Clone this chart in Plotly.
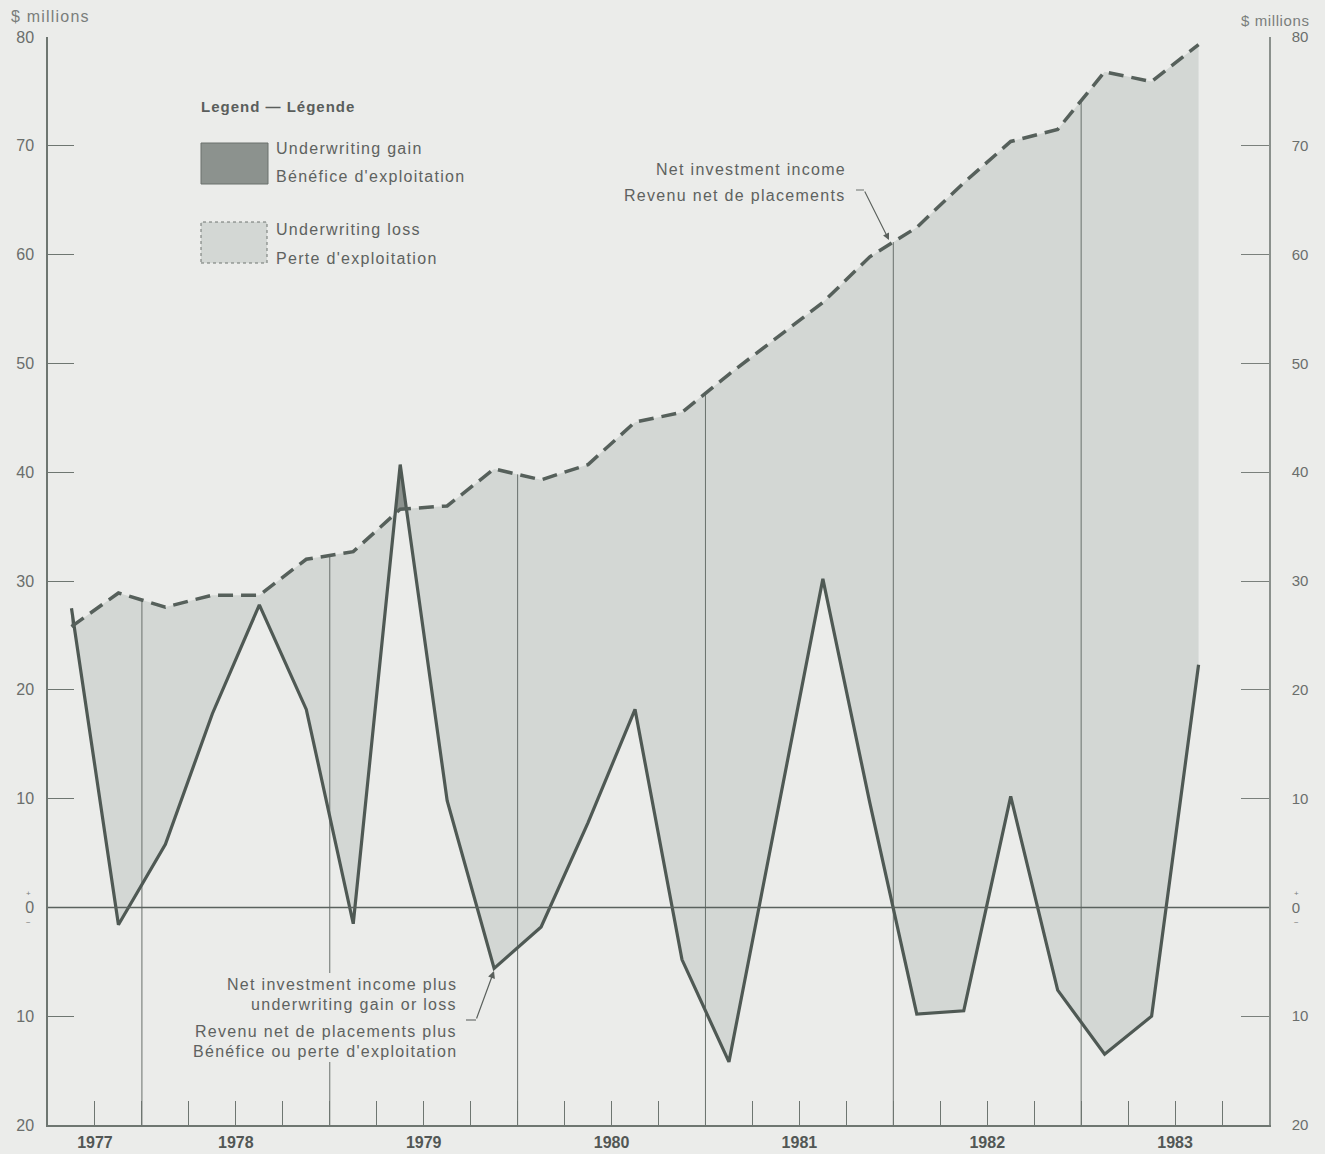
import numpy as np
import plotly.graph_objects as go

# ---------------- data ----------------
quarters = ["1977 Q3", "1977 Q4",
            "1978 Q1", "1978 Q2", "1978 Q3", "1978 Q4",
            "1979 Q1", "1979 Q2", "1979 Q3", "1979 Q4",
            "1980 Q1", "1980 Q2", "1980 Q3", "1980 Q4",
            "1981 Q1", "1981 Q2", "1981 Q3", "1981 Q4",
            "1982 Q1", "1982 Q2", "1982 Q3", "1982 Q4",
            "1983 Q1", "1983 Q2", "1983 Q3"]
axis_quarters = quarters + ["1983 Q4"]

# Net investment income ($ millions)
net_investment_income = [25.8, 28.9, 27.6, 28.7, 28.7, 32.0, 32.7, 36.6, 36.9, 40.3,
                         39.3, 40.7, 44.6, 45.5, 49.0, 52.3, 55.6, 59.8, 62.5, 66.6,
                         70.4, 71.5, 76.8, 75.9, 79.3]
# Net investment income plus underwriting gain or loss ($ millions)
net_plus_underwriting = [27.5, -1.6, 5.8, 17.8, 27.8, 18.2, -1.5, 40.7, 9.8, -5.6,
                         -1.8, 7.8, 18.2, -4.8, -14.2, 8.0, 30.2, 9.6, -9.8, -9.5,
                         10.2, -7.6, -13.5, -10.0, 22.3]

years = ["1977", "1978", "1979", "1980", "1981", "1982", "1983"]
y_tick_values = [-20, -10, 0, 10, 20, 30, 40, 50, 60, 70, 80]
y_tick_labels = ["20", "10", "0", "10", "20", "30", "40", "50", "60", "70", "80"]

# ---------------- styles ----------------
BG = "#ebecea"
FILL_LOSS = "#d3d7d4"
FILL_GAIN = "#8c928e"
LINE = "#4f5954"
AXIS = "#6e7671"
TEXT = "#5e6260"
FONT = "Liberation Sans, Arial, sans-serif"

W, H = 1325, 1154
L, R, T, B = 48, 1269, 37, 1125


def px(xp):
    return (xp - L) / (R - L)


def py(yp):
    return (B - yp) / (B - T)


def spaced(t, ls=1.3):
    return '<span style="letter-spacing:%spx">%s</span>' % (ls, t)


# ---------------- positions from data ----------------
n_axis = len(axis_quarters)
x = np.array([axis_quarters.index(q) + 0.5 for q in quarters])
ni = np.array(net_investment_income, dtype=float)
nu = np.array(net_plus_underwriting, dtype=float)


def with_crossings(xv, a, b):
    xs, av, bv = [xv[0]], [a[0]], [b[0]]
    for i in range(1, len(xv)):
        d0 = a[i - 1] - b[i - 1]
        d1 = a[i] - b[i]
        if d0 * d1 < 0:
            t = d0 / (d0 - d1)
            xc = xv[i - 1] + t * (xv[i] - xv[i - 1])
            yc = b[i - 1] + t * (b[i] - b[i - 1])
            xs.append(xc); av.append(yc); bv.append(yc)
        xs.append(xv[i]); av.append(a[i]); bv.append(b[i])
    return np.array(xs), np.array(av), np.array(bv)


xe, nue, nie = with_crossings(x, nu, ni)
low = np.minimum(nue, nie)
high = np.maximum(nue, nie)

fig = go.Figure()

# underwriting loss area
fig.add_trace(go.Scatter(x=xe, y=low, mode="lines", line=dict(width=0),
                         hoverinfo="skip", showlegend=False))
fig.add_trace(go.Scatter(x=xe, y=nie, mode="lines", line=dict(width=0),
                         fill="tonexty", fillcolor=FILL_LOSS,
                         hoverinfo="skip", showlegend=False))
# underwriting gain area
fig.add_trace(go.Scatter(x=xe, y=nie, mode="lines", line=dict(width=0),
                         hoverinfo="skip", showlegend=False))
fig.add_trace(go.Scatter(x=xe, y=high, mode="lines", line=dict(width=0),
                         fill="tonexty", fillcolor=FILL_GAIN,
                         hoverinfo="skip", showlegend=False))

# year boundary lines
bx, by = [], []
for yr in years[1:]:
    b = axis_quarters.index(yr + " Q1")
    top = float(np.interp(b, x, ni))
    bx += [b, b, None]
    by += [y_tick_values[0], top, None]
fig.add_trace(go.Scatter(x=bx, y=by, mode="lines", line=dict(color="#69706c", width=1),
                         hoverinfo="skip", showlegend=False))

# lines
fig.add_trace(go.Scatter(x=x, y=nu, mode="lines", name="Net investment income plus underwriting gain or loss",
                         line=dict(color=LINE, width=3.2), showlegend=False))
fig.add_trace(go.Scatter(x=x, y=ni, mode="lines", name="Net investment income",
                         line=dict(color="#56605b", width=3.5, dash="15px,8px"), showlegend=False))
# invisible trace to activate right axis
fig.add_trace(go.Scatter(x=x, y=ni, mode="lines", line=dict(width=0), yaxis="y2",
                         hoverinfo="skip", showlegend=False))

# x ticks: every quarter boundary, year labels centred on visible span
tickvals = list(range(1, n_axis))
label_pos = {}
for yr in years:
    qs = [i for i, q in enumerate(axis_quarters) if q.startswith(yr)]
    label_pos[(qs[0] + qs[-1] + 1) / 2] = yr
ticktext = ["<b>%s</b>" % label_pos[v] if v in label_pos else "" for v in tickvals]

fig.update_layout(
    width=W, height=H,
    margin=dict(l=L, r=W - R, t=T, b=H - B, autoexpand=False),
    paper_bgcolor=BG, plot_bgcolor=BG,
    font=dict(family=FONT, color=TEXT, size=15),
    xaxis=dict(range=[0, n_axis], showgrid=False, zeroline=False, automargin=False,
               showline=True, linecolor=AXIS, linewidth=1.5,
               ticks="inside", ticklen=24, tickwidth=1.2, tickcolor=AXIS,
               tickvals=tickvals, ticktext=ticktext,
               tickfont=dict(size=16, color="#525755"), ticklabelstandoff=2),
    yaxis=dict(range=[-20, 80], showgrid=False, zeroline=False, automargin=False,
               showline=True, linecolor=AXIS, linewidth=1.5,
               ticks="inside", ticklen=26, tickwidth=1.2, tickcolor=AXIS,
               tickvals=y_tick_values, ticktext=y_tick_labels,
               tickfont=dict(size=16, color="#6a6e6c"), ticklabelstandoff=9),
    yaxis2=dict(range=[-20, 80], overlaying="y", side="right", showgrid=False, zeroline=False,
                automargin=False,
                showline=True, linecolor="#8a908c", linewidth=1.5,
                ticks="inside", ticklen=28, tickwidth=1, tickcolor="#7a807c",
                tickvals=y_tick_values, ticktext=y_tick_labels,
                tickfont=dict(size=15, color="#6a6e6c"), ticklabelstandoff=18),
    showlegend=False,
)

shapes = []
# zero line
shapes.append(dict(type="line", xref="paper", yref="y", x0=0, x1=1, y0=0, y1=0,
                   line=dict(color="#5a625e", width=1.5), layer="above"))
# background patch behind lower annotation (text interrupts the year line)
shapes.append(dict(type="rect", xref="paper", yref="paper", x0=px(196), x1=px(462),
                   y0=py(1062), y1=py(973), fillcolor=BG, line=dict(width=0), layer="above"))
# legend boxes
shapes.append(dict(type="rect", xref="paper", yref="paper", x0=px(201), x1=px(268),
                   y0=py(184), y1=py(143), fillcolor=FILL_GAIN,
                   line=dict(color="#6a706c", width=1), layer="above"))
shapes.append(dict(type="rect", xref="paper", yref="paper", x0=px(201), x1=px(267),
                   y0=py(263), y1=py(222), fillcolor=FILL_LOSS,
                   line=dict(color="#6f7571", width=1, dash="dot"), layer="above"))
# leader hooks
shapes.append(dict(type="line", xref="paper", yref="paper", x0=px(856), x1=px(864),
                   y0=py(190), y1=py(190), line=dict(color="#6a706c", width=1), layer="above"))
shapes.append(dict(type="line", xref="paper", yref="paper", x0=px(466), x1=px(476),
                   y0=py(1020), y1=py(1020), line=dict(color="#6a706c", width=1.2), layer="above"))

annotations = []


def text(t, xp, yp, xanchor="left", size=16, color=TEXT, ls=1.3):
    annotations.append(dict(text=spaced(t, ls) if ls else t, xref="paper", yref="paper",
                            x=px(xp), y=py(yp),
                            xanchor=xanchor, yanchor="middle", showarrow=False,
                            font=dict(size=size, color=color, family=FONT)))


text("$ millions", 9, 16, size=16, color="#7a7e7c", ls=1.2)
text("$ millions", 1312, 20, xanchor="right", size=15, color="#7a7e7c", ls=0.6)
text("<b>Legend — Légende</b>", 199, 106, size=15, color="#5a5e5c", ls=1.0)
text("Underwriting gain", 274, 149)
text("Bénéfice d'exploitation", 274, 176)
text("Underwriting loss", 274, 230)
text("Perte d'exploitation", 274, 258)
text("Net investment income", 848, 170, xanchor="right")
text("Revenu net de placements", 848, 196, xanchor="right")
text("Net investment income plus", 459, 984, xanchor="right")
text("underwriting gain or loss", 459, 1004, xanchor="right")
text("Revenu net de placements plus", 459, 1031, xanchor="right")
text("Bénéfice ou perte d'exploitation", 459, 1051, xanchor="right")
# +/- marks near zero labels
text("+", 28, 893, xanchor="center", size=8, color="#7a7e7c", ls=0)
text("−", 28, 922, xanchor="center", size=8, color="#7a7e7c", ls=0)
text("+", 1296, 893, xanchor="center", size=8, color="#7a7e7c", ls=0)
text("−", 1296, 922, xanchor="center", size=8, color="#7a7e7c", ls=0)

# arrows
annotations.append(dict(text="", xref="paper", yref="paper", x=px(889), y=py(240),
                        ax=-25, ay=-50, showarrow=True, arrowhead=2, arrowsize=1.2,
                        arrowwidth=1.1, arrowcolor="#5a605c"))
annotations.append(dict(text="", xref="paper", yref="paper", x=px(494), y=py(971),
                        ax=-18, ay=49, showarrow=True, arrowhead=2, arrowsize=1.2,
                        arrowwidth=1.2, arrowcolor="#5a605c"))

fig.update_layout(shapes=shapes, annotations=annotations)

fig.write_html("out.html", config={"displayModeBar": False},
               post_script="document.body.style.margin='0';document.documentElement.style.overflow='hidden';")
